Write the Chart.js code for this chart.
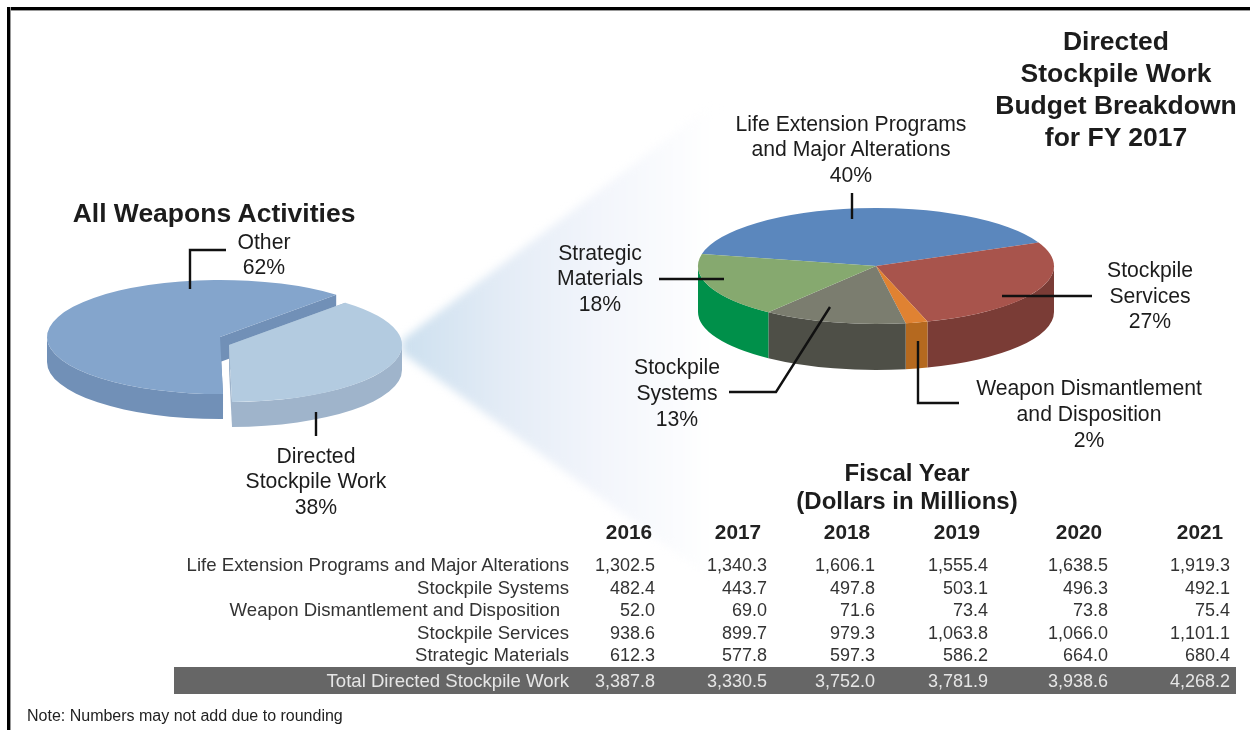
<!DOCTYPE html>
<html>
<head>
<meta charset="utf-8">
<title>Directed Stockpile Work Budget Breakdown</title>
<script src="https://cdn.jsdelivr.net/npm/chart.js@4/dist/chart.umd.min.js"></script>
<style>
    html, body { margin: 0; padding: 0; background: #fff; }
    #page { position: relative; width: 1250px; height: 730px; overflow: hidden; font-family: "Liberation Sans", Arial, sans-serif; color: #1c1c1c; }
    #page canvas { position: absolute; }
    #frame-top { position: absolute; left: 7px; top: 7px; right: 0; height: 3px; background: #000; border-bottom: 1px solid #999; }
    #frame-left { position: absolute; left: 7px; top: 7px; bottom: 0; width: 3px; background: #000; border-right: 1px solid #999; }
    #fan, #leaders { position: absolute; left: 0; top: 0; }
    .txt { position: absolute; white-space: nowrap; transform: translate(-50%, -50%); }
    .label { font-size: 21.2px; }
    .bold { font-weight: bold; }
    .num { position: absolute; white-space: nowrap; transform: translate(-100%, -50%); font-size: 18px; color: #333; }
    .row-label { font-size: 18.6px; }
    #total-bar { position: absolute; left: 174px; top: 667px; width: 1062px; height: 27px; background: #666; }
    .total { color: #e6e6e6; }
</style>
</head>
<body>
<div id="page">
    <svg id="fan" width="1250" height="730">
        <defs>
            <linearGradient id="fan-fill" gradientUnits="userSpaceOnUse" x1="402" y1="0" x2="715" y2="0">
                <stop offset="0" stop-color="#cde0ef"/>
                <stop offset="0.33" stop-color="#e4ecf6"/>
                <stop offset="0.62" stop-color="#f2f5fb"/>
                <stop offset="1" stop-color="#ffffff"/>
            </linearGradient>
            <filter id="fan-blur" x="-10%" y="-10%" width="120%" height="120%" color-interpolation-filters="sRGB"><feGaussianBlur stdDeviation="4"/></filter>
        </defs>
        <polygon points="402,340 730,91 730,592 402,353" fill="url(#fan-fill)" filter="url(#fan-blur)"/>
    </svg>
    <div id="frame-top"></div>
    <div id="frame-left"></div>
    <canvas id="pie-all" style="left:20px;top:237px"></canvas>
    <canvas id="pie-dsw" style="left:676px;top:156px"></canvas>
    <div id="total-bar"></div>
    <svg id="leaders" width="1250" height="730"></svg>
</div>
<script>
// left pie
const allLabels = ['Other', 'Directed Stockpile Work'];
const allShare = [62, 38];
const allTop = ['#84a5cc', '#b3cbe0'];
const allWall = ['#7190b7', '#9fb4cb'];

// right pie, FY 2017
const dswLabels = ['Life Extension Programs and Major Alterations', 'Stockpile Services', 'Weapon Dismantlement and Disposition', 'Stockpile Systems', 'Strategic Materials'];
const dswShare = [40, 27, 2, 13, 18];
const dswTop = ['#5b87bd', '#a8544c', '#e08232', '#7b7d6f', '#86a96f'];
const dswWall = ['#3f5f87', '#7a3c36', '#b5691f', '#4e4f47', '#00904a'];

// table
const years = ['2016', '2017', '2018', '2019', '2020', '2021'];
const rowLabels = ['Life Extension Programs and Major Alterations', 'Stockpile Systems', 'Weapon Dismantlement and Disposition', 'Stockpile Services', 'Strategic Materials'];
const lifeExtension = ['1,302.5', '1,340.3', '1,606.1', '1,555.4', '1,638.5', '1,919.3'];
const stockpileSystems = ['482.4', '443.7', '497.8', '503.1', '496.3', '492.1'];
const weaponDismantlement = ['52.0', '69.0', '71.6', '73.4', '73.8', '75.4'];
const stockpileServices = ['938.6', '899.7', '979.3', '1,063.8', '1,066.0', '1,101.1'];
const strategicMaterials = ['612.3', '577.8', '597.3', '586.2', '664.0', '680.4'];
const totals = ['3,387.8', '3,330.5', '3,752.0', '3,781.9', '3,938.6', '4,268.2'];
const tableRows = [lifeExtension, stockpileSystems, weaponDismantlement, stockpileServices, strategicMaterials];

// layout of the text and the leader lines
const yearCenters = [629, 738, 847, 957, 1079, 1200];
const columnRights = [655, 767, 875, 988, 1108, 1230];
const rowCenters = [565, 587.5, 610, 632.5, 655];
const labelRights = [569, 569, 560, 569, 569];
const leaders = [
    '190,289 190,250 226,250',
    '316,412 316,436',
    '852,193 852,219',
    '659,279 724,279',
    '1002,296 1092,296',
    '830,307 776,392 729,392',
    '918,341 918,403 959,403'
];

// squashes a pie into an ellipse and gives it a side wall
const tiltedPie = {
    id: 'tiltedPie',
    beforeDatasetsDraw(chart, args, opts) {
        const ctx = chart.ctx;
        const k = opts.squash;
        chart.getDatasetMeta(0).data.forEach((arc, i) => {
            const { x, y, outerRadius: r, startAngle, endAngle } = arc;
            const d = opts.depth / k;
            const shift = opts.explode[i];
            ctx.save();
            ctx.translate(x + shift[0], y + shift[1]);
            ctx.scale(1, k);
            ctx.translate(-x, -y);
            ctx.fillStyle = opts.walls[i];

            // cut faces, only seen when a slice is pulled out
            if (opts.cutFaces) {
                [startAngle, endAngle].forEach(a => {
                    ctx.beginPath();
                    ctx.moveTo(x, y);
                    ctx.lineTo(x + r * Math.cos(a), y + r * Math.sin(a));
                    ctx.lineTo(x + r * Math.cos(a), y + r * Math.sin(a) + d);
                    ctx.lineTo(x, y + d);
                    ctx.closePath();
                    ctx.fill();
                });
            }

            // outer wall, front half of the ellipse only
            const span = endAngle - startAngle;
            const s = ((startAngle % (2 * Math.PI)) + 2 * Math.PI) % (2 * Math.PI);
            [[0, Math.PI], [2 * Math.PI, 3 * Math.PI]].forEach(([lo, hi]) => {
                const a1 = Math.max(s, lo);
                const a2 = Math.min(s + span, hi);
                if (a2 <= a1) return;
                ctx.beginPath();
                ctx.arc(x, y, r, a1, a2);
                ctx.arc(x, y + d, r, a2, a1, true);
                ctx.closePath();
                ctx.fill();
            });

            arc.draw(ctx);
            ctx.restore();
        });
        return false;
    }
};

function makePie(id, width, height, labels, values, tops, rotation, radius, pieOpts) {
    const canvas = document.getElementById(id);
    canvas.width = width;
    canvas.height = height;
    return new Chart(canvas, {
        type: 'pie',
        data: { labels, datasets: [{ data: values, backgroundColor: tops, borderWidth: 0 }] },
        options: {
            responsive: false,
            animation: false,
            rotation,
            radius,
            events: [],
            plugins: { legend: { display: false }, tooltip: { enabled: false }, tiltedPie: pieOpts }
        },
        plugins: [tiltedPie]
    });
}

makePie('pie-all', 400, 200, allLabels, allShare, allTop, 179, 173, {
    squash: 0.33, depth: 25, walls: allWall, explode: [[0, 0], [9, 8]], cutFaces: true
});
makePie('pie-dsw', 400, 220, dswLabels, dswShare, dswTop, -78, 178, {
    squash: 0.326, depth: 46, walls: dswWall, explode: [[0, 0], [0, 0], [0, 0], [0, 0], [0, 0]], cutFaces: false
});

// text
const page = document.getElementById('page');
function addText(text, x, y, cls, style) {
    const el = document.createElement('div');
    el.className = cls;
    el.textContent = text;
    el.style.left = x + 'px';
    el.style.top = y + 'px';
    if (style) Object.assign(el.style, style);
    page.appendChild(el);
}

function addLines(lines, x, ys, cls, style) {
    lines.forEach((line, i) => addText(line, x, ys[i], cls, style));
}

const titleStyle = { fontSize: '26.5px' };
addLines(['Directed', 'Stockpile Work', 'Budget Breakdown', 'for FY 2017'], 1116, [41, 73, 105, 137], 'txt bold', titleStyle);
addText('All Weapons Activities', 214, 213, 'txt bold', titleStyle);
addLines(['Fiscal Year', '(Dollars in Millions)'], 907, [473, 501], 'txt bold', { fontSize: '24px' });

addLines(['Other', '62%'], 264, [242, 267], 'txt label');
addLines(['Directed', 'Stockpile Work', '38%'], 316, [456, 481, 507], 'txt label');
addLines(['Life Extension Programs', 'and Major Alterations', '40%'], 851, [124, 149, 175], 'txt label');
addLines(['Strategic', 'Materials', '18%'], 600, [253, 278, 304], 'txt label');
addLines(['Stockpile', 'Services', '27%'], 1150, [270, 296, 321], 'txt label');
addLines(['Stockpile', 'Systems', '13%'], 677, [367, 393, 419], 'txt label');
addLines(['Weapon Dismantlement', 'and Disposition', '2%'], 1089, [388, 414, 440], 'txt label');

years.forEach((year, i) => addText(year, yearCenters[i], 532, 'txt bold', { fontSize: '20.8px', color: '#222' }));
rowLabels.forEach((label, r) => {
    addText(label, labelRights[r], rowCenters[r], 'num row-label');
    tableRows[r].forEach((value, c) => addText(value, columnRights[c], rowCenters[r], 'num'));
});
addText('Total Directed Stockpile Work', 569, 681, 'num total row-label');
totals.forEach((value, c) => addText(value, columnRights[c], 681, 'num total'));
addText('Note: Numbers may not add due to rounding', 27, 716, 'num', { transform: 'translate(0, -50%)', fontSize: '16px', color: '#222' });

// leader lines
const leaderSvg = document.getElementById('leaders');
leaders.forEach(points => {
    const line = document.createElementNS('http://www.w3.org/2000/svg', 'polyline');
    line.setAttribute('points', points);
    line.setAttribute('fill', 'none');
    line.setAttribute('stroke', '#111');
    line.setAttribute('stroke-width', '2.4');
    leaderSvg.appendChild(line);
});
</script>
</body>
</html>
